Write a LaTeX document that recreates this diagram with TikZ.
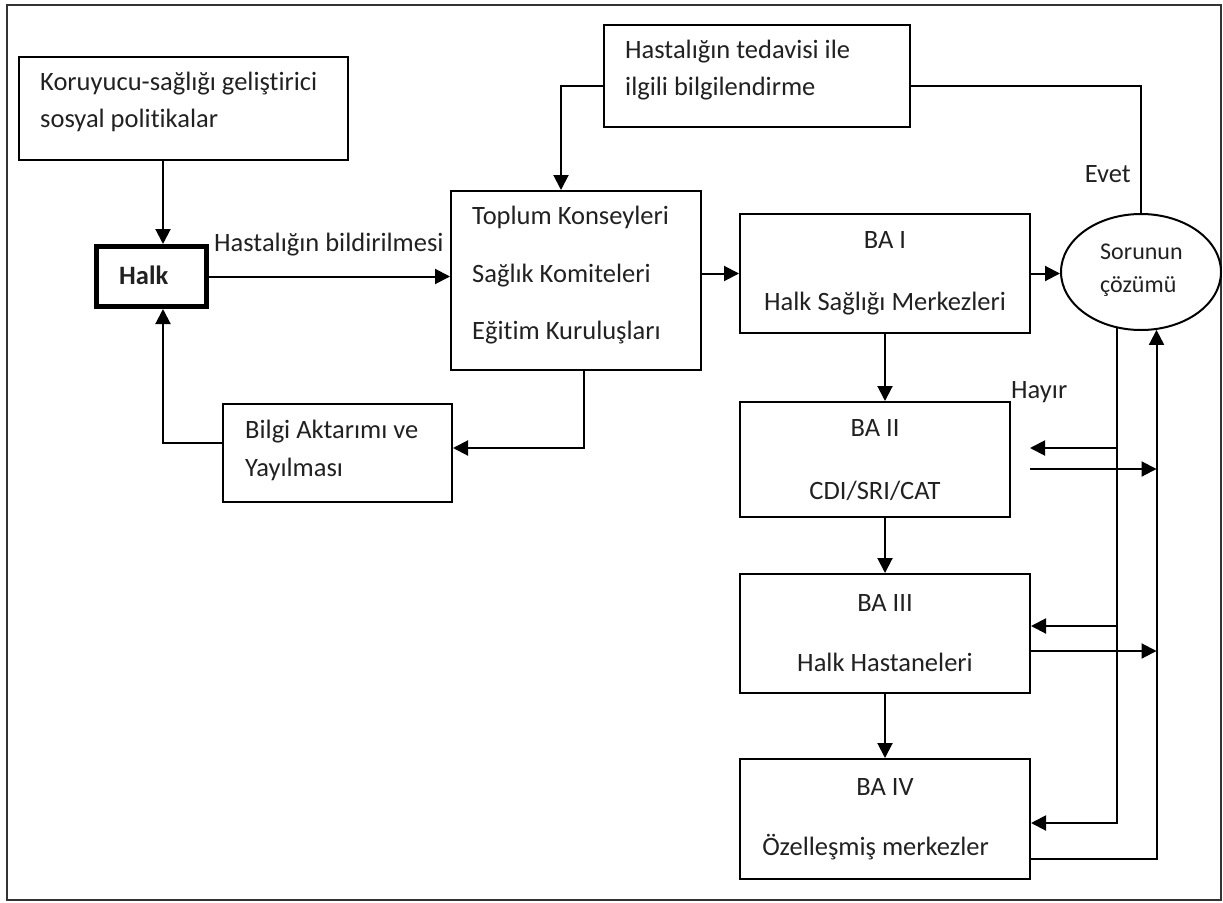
\documentclass[tikz,border=0pt]{standalone}
\usepackage{fontspec}
\setmainfont{Carlito}[Ligatures={CommonOff,ContextualOff}]
\usetikzlibrary{arrows.meta,shapes.geometric,calc}
\begin{document}
\begin{tikzpicture}[x=1pt,y=-1pt,
  box/.style={draw=black, line width=2pt, rectangle, inner sep=0pt},
  txt/.style={inner sep=0pt, text=black!87},
  arr/.style={line width=2pt, -{Triangle[length=15pt,width=15pt]}},
  ln/.style={line width=2pt}]
\useasboundingbox (0,0) rectangle (1223,902);
\draw[line width=2.2pt, black!80] (7,5) rectangle (1221,900);

% boxes
\node[box, minimum width=329pt, minimum height=103pt] (kor) at (183.5,108.5) {};
\node[box, line width=5pt, minimum width=110pt, minimum height=60pt] (halk) at (151.5,276.5) {};
\node[box, minimum width=250pt, minimum height=179pt] (toplum) at (576,280.5) {};
\node[box, minimum width=306pt, minimum height=102pt] (ted) at (757,76) {};
\node[box, minimum width=229pt, minimum height=98pt] (bilgi) at (337.5,453) {};
\node[box, minimum width=290pt, minimum height=119pt] (ba1) at (885,273.5) {};
\node[box, minimum width=270pt, minimum height=115pt] (ba2) at (875,459.5) {};
\node[box, minimum width=290pt, minimum height=119pt] (ba3) at (885,633.5) {};
\node[box, minimum width=290pt, minimum height=120pt] (ba4) at (885,819) {};
\node[draw=black, line width=2pt, ellipse, inner sep=0pt, minimum width=160pt, minimum height=116pt] (sol) at (1141,272) {};

% texts
\node[txt, anchor=west, align=left, font=\fontsize{26.5}{37}\selectfont] (kort) at (40,101.5) {Koruyucu-sağlığı geliştirici\\sosyal politikalar};
\node[txt, anchor=west, font=\fontsize{26.5}{32}\selectfont\bfseries] (halkt) at (119,275) {Halk};
\node[txt, anchor=west, font=\fontsize{26.5}{32}\selectfont] (bild) at (214,245) {Hastalığın bildirilmesi};
\node[txt, anchor=west, align=left, font=\fontsize{26.5}{57.5}\selectfont] (topt) at (472,275.5) {Toplum Konseyleri\\Sağlık Komiteleri\\Eğitim Kuruluşları};
\node[txt, anchor=west, align=left, font=\fontsize{26.5}{37}\selectfont] (tedt) at (625,70.5) {Hastalığın tedavisi ile\\ilgili bilgilendirme};
\node[txt, anchor=west, align=left, font=\fontsize{26.5}{38}\selectfont] (bilt) at (245,450) {Bilgi Aktarımı ve\\Yayılması};
\node[txt, align=center, font=\fontsize{26.5}{62}\selectfont] (ba1t) at (885,273) {BA I\\Halk Sağlığı Merkezleri};
\node[txt, align=center, font=\fontsize{26.5}{63}\selectfont] (ba2t) at (875,460.5) {BA II\\CDI/SRI/CAT};
\node[txt, align=center, font=\fontsize{26.5}{60}\selectfont] (ba3t) at (885,633) {BA III\\Halk Hastaneleri};
\node[txt, align=center, font=\fontsize{26.5}{60}\selectfont] (ba4t) at (885,819) {BA IV\\Özelleşmiş merkezler\hspace*{19pt}};
\node[txt, anchor=west, align=left, font=\fontsize{24}{33}\selectfont] (solt) at (1100,270.5) {Sorunun\\çözümü};
\node[txt, anchor=east, font=\fontsize{26.5}{32}\selectfont] (evet) at (1131,174) {Evet};
\node[txt, anchor=west, font=\fontsize{26.5}{32}\selectfont] (hayir) at (1011,392) {Hayır};

% helper coordinates
\coordinate (xa) at (163,0);
\coordinate (xb) at (561,0);
\coordinate (xc) at (584,0);
\coordinate (xg) at (1030,0);
\coordinate (ya) at (0,86);
\coordinate (yb) at (0,448);
\coordinate (yc) at (0,443);
\coordinate (y469) at (0,469);
\coordinate (y626) at (0,626);
\coordinate (y651) at (0,651);
\coordinate (y823) at (0,823);
\coordinate (y859) at (0,859);
\coordinate (hl) at (sol.247.5);
\coordinate (hr) at (sol.285.7);

% connectors
\draw[arr] (kor.south -| xa) -- (halk.north -| xa);
\draw[arr] (halk.east) -- (halk.east -| toplum.west);
\draw[arr] (ted.west |- ya) -| (toplum.north -| xb);
\draw[ln] (sol.north) |- (ted.east |- ya);
\draw[arr] (ba1.west -| toplum.east) -- (ba1.west);
\draw[arr] (ba1.east) -- (ba1.east -| sol.west);
\draw[arr] (ba1.south) -- (ba2.north -| ba1.south);
\draw[arr] (ba2.south -| ba3.north) -- (ba3.north);
\draw[arr] (ba3.south) -- (ba4.north);
\draw[arr] (toplum.south -| xc) |- (bilgi.east |- yb);
\draw[arr] (bilgi.west |- yc) -| (halk.south -| xa);
\draw[arr] (hl) |- (ba4.east |- y823);
\draw[arr] (hl |- yb) -- (xg |- yb);
\draw[arr] (hl |- y626) -- (ba3.east |- y626);
\draw[arr] (ba4.east |- y859) -| (hr);
\draw[arr] (xg |- y469) -- (hr |- y469);
\draw[arr] (ba3.east |- y651) -- (hr |- y651);
\end{tikzpicture}
\end{document}
